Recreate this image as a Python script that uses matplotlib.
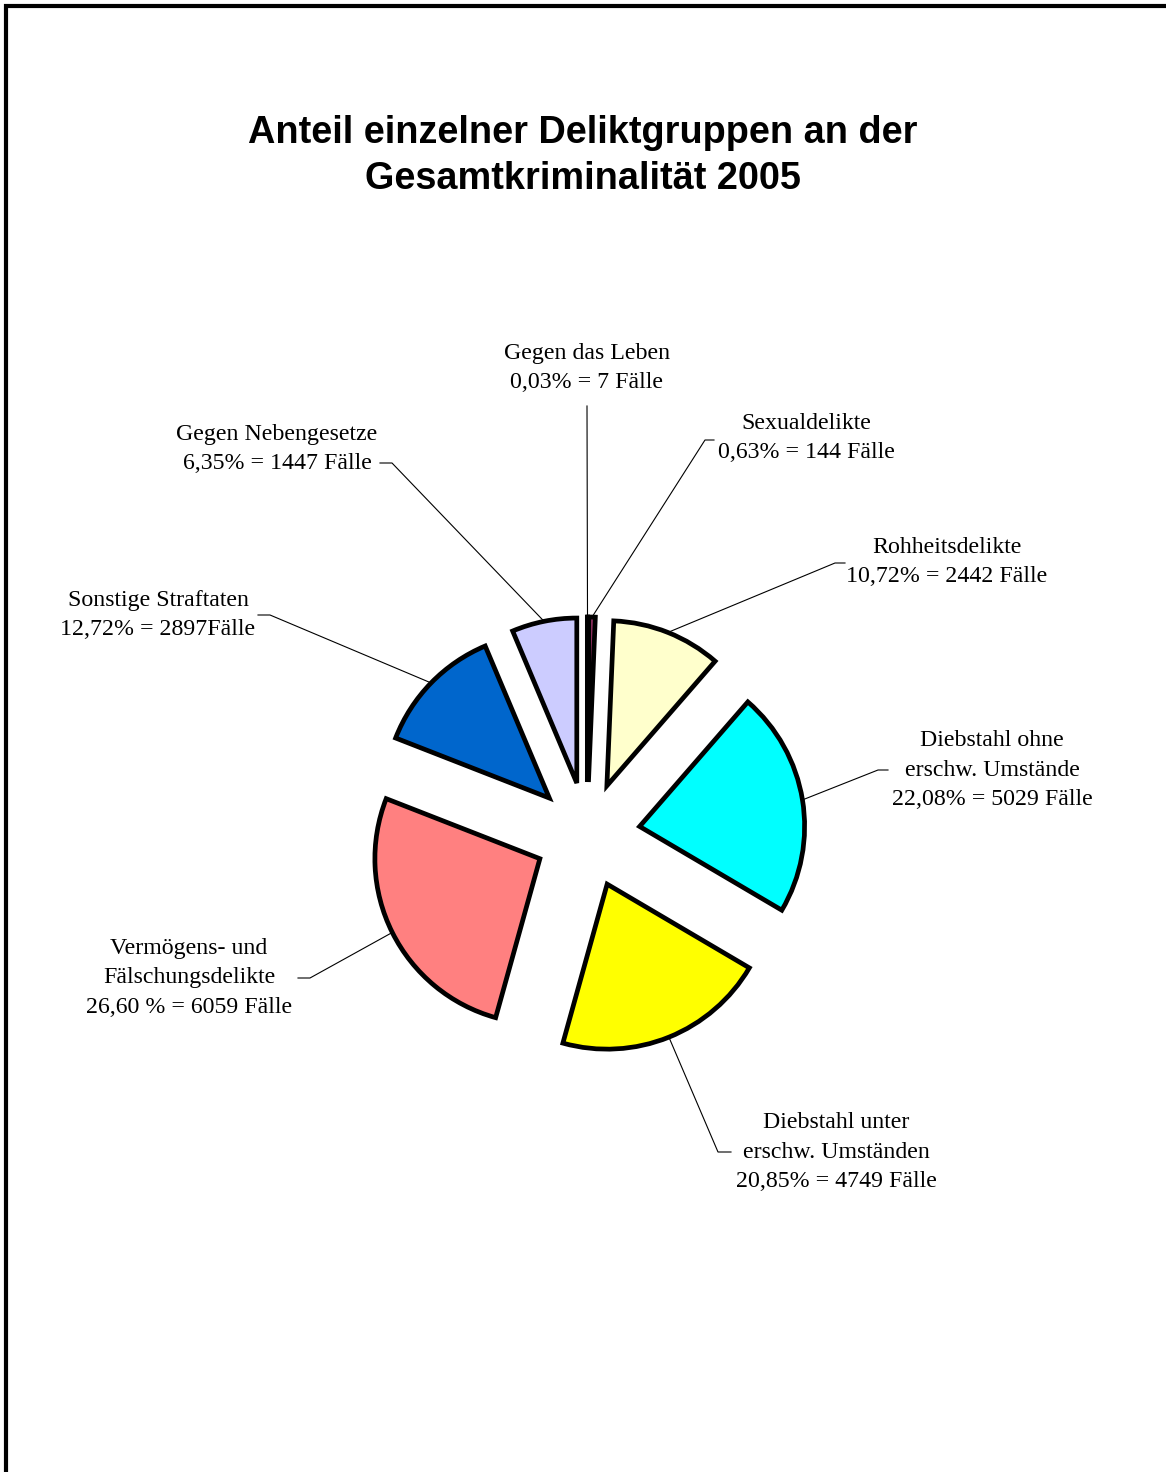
import matplotlib
matplotlib.use("Agg")
import matplotlib.pyplot as plt
import numpy as np
from matplotlib.patches import Rectangle

# size of the picture in pixels
W, H = 1166, 1472

# data
labels = [
    "Gegen das Leben\n0,03% = 7 Fälle",
    "Sexualdelikte\n0,63% = 144 Fälle",
    "Rohheitsdelikte\n10,72% = 2442 Fälle",
    "Diebstahl ohne\nerschw. Umstände\n22,08% = 5029 Fälle",
    "Diebstahl unter\nerschw. Umständen\n20,85% = 4749 Fälle",
    "Vermögens- und\nFälschungsdelikte\n26,60 % = 6059 Fälle",
    "Sonstige Straftaten\n12,72% = 2897Fälle",
    "Gegen Nebengesetze\n6,35% = 1447 Fälle",
]
faelle = [7, 144, 2442, 5029, 4749, 6059, 2897, 1447]
colors = ["#9999FF", "#993366", "#FFFFCC", "#00FFFF",
          "#FFFF00", "#FF8080", "#0066CC", "#CCCCFF"]


def img(x, y):
    # picture pixel coords -> data coords (y up)
    return x, H - y


# label centres and leader elbows, in picture pixels
label_pos = [(587, 368), (806, 438), (947, 562), (992, 770),
             (836, 1152), (189, 978), (158, 615), (277, 449)]
elbows = [
    [(587, 406)],
    [(705, 440), (714, 440)],
    [(835, 563), (845, 563)],
    [(878, 770), (888, 770)],
    [(718, 1152), (731, 1152)],
    [(310, 978), (298, 978)],
    [(270, 615), (258, 615)],
    [(392, 463), (380, 463)],
]

fig = plt.figure(figsize=(W / 100, H / 100), dpi=100)
ax = fig.add_axes([0, 0, 1, 1])

radius = 165
# explode is in data units here (pixels), not a fraction of the radius
wedges, _ = ax.pie(faelle, colors=colors, startangle=90, counterclock=False,
                   radius=radius, center=img(587.3, 835),
                   explode=[53] * len(faelle),
                   wedgeprops=dict(linewidth=3.4, edgecolor="black",
                                   joinstyle="miter"))

ax.set_xlim(0, W)
ax.set_ylim(0, H)
ax.set_aspect("equal")
ax.axis("off")

# leader lines from the middle of each arc, then labels
for w, lab, pos, elb in zip(wedges, labels, label_pos, elbows):
    mid = np.deg2rad((w.theta1 + w.theta2) / 2)
    cx, cy = w.center
    start = (cx + w.r * np.cos(mid), cy + w.r * np.sin(mid))
    pts = [start] + [img(*p) for p in elb]
    xs, ys = zip(*pts)
    ax.plot(xs, ys, color="black", linewidth=0.8, zorder=0)
    ax.text(*img(*pos), lab, ha="center", va="center", multialignment="center",
            fontsize=17.2, family="Liberation Serif", linespacing=1.55)

# title
fig.text(583 / W, 1 - 156 / H,
         "Anteil einzelner Deliktgruppen an der\nGesamtkriminalität 2005",
         ha="center", va="center", fontsize=27.3, fontweight="bold",
         family="Liberation Sans", linespacing=1.37)

# frame, only top and left edges fall inside the picture
fig.add_artist(Rectangle((5.5 / W, -0.1), 1.2, 1.1 - 6 / H,
                         transform=fig.transFigure, fill=False,
                         linewidth=3, edgecolor="black"))

fig.savefig("out.png", dpi=100)
